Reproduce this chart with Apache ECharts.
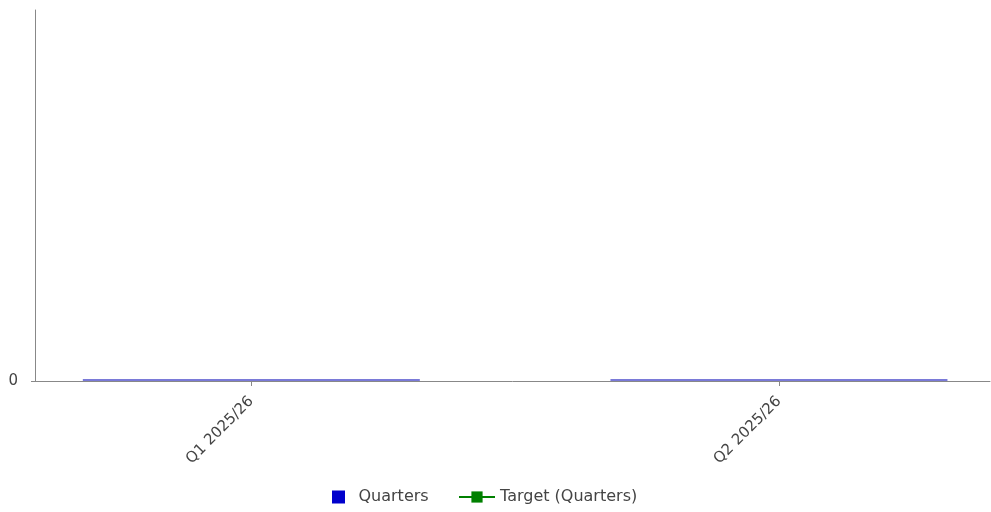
<!DOCTYPE html>
<html>
<head>
<meta charset="utf-8">
<script src="https://cdn.jsdelivr.net/npm/echarts@6/dist/echarts.min.js"></script>
<style>
  html, body { margin: 0; padding: 0; background: #fff; }
  #chart { width: 991px; height: 512px; }
</style>
</head>
<body>
<div id="chart"></div>
<script>
// categories and values
const categories = ["Q1 2025/26", "Q2 2025/26"];
const quarterValues = [0, 0];
const targetValues = [null, null];
const yTicks = [0];

const chart = echarts.init(document.getElementById("chart"));

// category positions as index, so the axis margins match the original
const catIdx = categories.map((c, i) => i);

const legendText = { color: "#444", fontSize: 16, fontFamily: "DejaVu Sans" };

const option = {
  animation: false,
  textStyle: { fontFamily: "DejaVu Sans" },
  grid: { left: 35, right: 1, top: 10, bottom: 131, containLabel: false },
  legend: [
    {
      left: 327,
      top: 484,
      itemWidth: 30,
      itemHeight: 13,
      symbolKeepAspect: true,
      textStyle: legendText,
      data: [{ name: "Quarters", icon: "path://M0,0h12v12h-12z", itemStyle: { color: "#0000cc" } }],
    },
    {
      left: 453,
      top: 484,
      itemWidth: 36,
      itemHeight: 14,
      textStyle: legendText,
      data: [{ name: "Target (Quarters)" }],
    },
  ],
  xAxis: {
    type: "value",
    min: -0.41,
    max: 1.4,
    splitLine: { show: false },
    axisLine: { show: true, lineStyle: { color: "#888", width: 1 } },
    axisTick: { show: true, customValues: catIdx, length: 5, lineStyle: { color: "#888" } },
    axisLabel: {
      customValues: catIdx,
      rotate: 45,
      color: "#444",
      fontSize: 15,
      margin: 18,
      formatter: (v) => categories[Math.round(v)] || "",
    },
  },
  yAxis: {
    type: "value",
    min: 0,
    max: 1,
    splitLine: { show: false },
    axisLine: { show: true, onZero: false, lineStyle: { color: "#888", width: 1 } },
    axisTick: { show: true, customValues: yTicks, length: 4, lineStyle: { color: "#888" } },
    axisLabel: { customValues: yTicks, color: "#444", fontSize: 15, margin: 17 },
  },
  series: [
    {
      name: "Quarters",
      type: "bar",
      barWidth: 337,
      barMinHeight: 2,
      itemStyle: { color: "#7a7ad8" },
      data: quarterValues.map((v, i) => [catIdx[i], v]),
    },
    {
      name: "Target (Quarters)",
      type: "line",
      symbol: "rect",
      symbolSize: 12,
      itemStyle: { color: "#008000" },
      lineStyle: { color: "#008000", width: 2 },
      data: targetValues.map((v, i) => [catIdx[i], v]),
    },
  ],
};

chart.setOption(option);
</script>
</body>
</html>
